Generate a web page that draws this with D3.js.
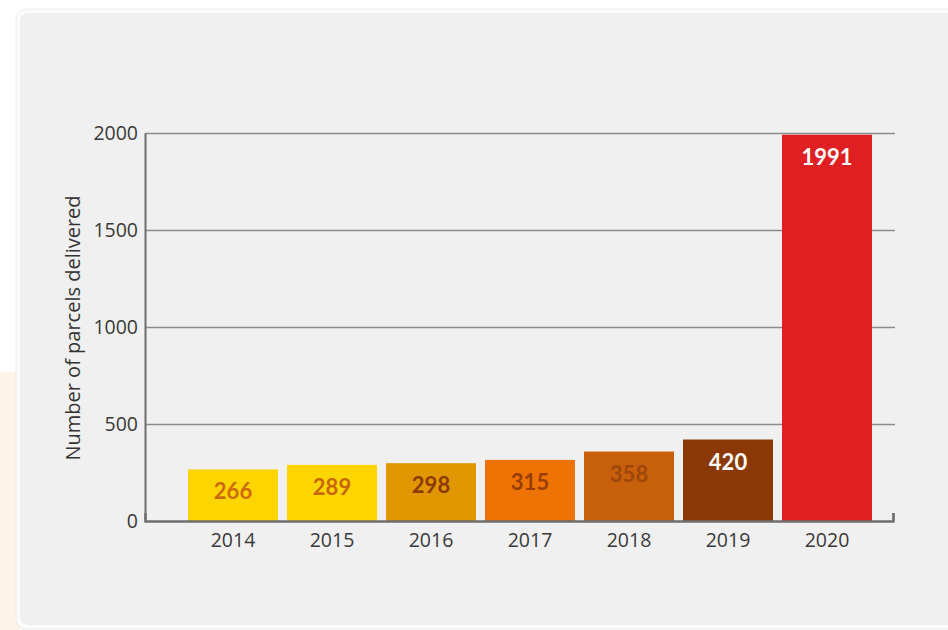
<!DOCTYPE html>
<html>
<head>
<meta charset="utf-8">
<script src="https://cdn.jsdelivr.net/npm/d3@7"></script>
<style>
  html, body { margin: 0; padding: 0; background: #fff; overflow: hidden; }
  svg { display: block; }
</style>
</head>
<body>
<div id="chart"></div>
<script>
// data
const years = ['2014', '2015', '2016', '2017', '2018', '2019', '2020']
const parcels = [266, 289, 298, 315, 358, 420, 1991]
const barColors = ['#ffd500', '#ffd500', '#e09700', '#ee7302', '#c85f0b', '#8a3806', '#e01f23']
const labelColors = ['#d0690b', '#c9660a', '#8c3b06', '#993e06', '#9e470b', '#ffffff', '#ffffff']
const yTicks = [0, 500, 1000, 1500, 2000]

const W = 948, H = 630
const svg = d3.select('#chart').append('svg')
    .attr('width', W)
    .attr('height', H)

// page background: pale strip on the left, then the grey card
svg.append('rect')
    .attr('x', 0).attr('y', 372).attr('width', 20).attr('height', H - 372)
    .attr('fill', '#fdf3e8')
svg.append('rect')
    .attr('x', 16).attr('y', 9).attr('width', 960).attr('height', 620)
    .attr('rx', 10)
    .attr('fill', '#fbfbfb')
    .attr('stroke', '#ececec')
svg.append('rect')
    .attr('x', 20).attr('y', 13).attr('width', 960).attr('height', 612)
    .attr('rx', 8)
    .attr('fill', '#f0f0f0')

// scales
let x = d3.scaleBand()
    .domain(years)
    .range([183.5, 876.5])
    .paddingInner(0.0909)
    .paddingOuter(0.04545)
let y = d3.scaleLinear()
    .domain([0, 2000])
    .range([521, 133])

const axisLeftX = 145, axisRightX = 893

// gridlines
let grid = svg.append('g')
    .attr('transform', `translate(${axisLeftX},0)`)
    .call(d3.axisLeft(y).tickValues(yTicks.slice(1)).tickSize(-(895 - axisLeftX)).tickFormat(''))
grid.select('.domain').remove()
grid.selectAll('line').attr('stroke', '#8a8a8a').attr('stroke-width', 1.4)

// y axis labels + line
let yAxis = svg.append('g')
    .attr('transform', `translate(${axisLeftX},0)`)
    .call(d3.axisLeft(y).tickValues(yTicks).tickSize(0).tickPadding(7).tickFormat(d3.format('d')))
yAxis.select('.domain').attr('stroke', '#6e6e6e').attr('stroke-width', 2)
yAxis.selectAll('text')
    .attr('font-family', 'Open Sans, sans-serif')
    .attr('font-size', 19.5)
    .attr('fill', '#3a3a3a')

// bars
svg.append('g').selectAll('rect')
    .data(parcels)
    .enter().append('rect')
    .attr('x', (d, i) => x(years[i]))
    .attr('y', d => y(d))
    .attr('width', x.bandwidth())
    .attr('height', d => y(0) - y(d))
    .attr('fill', (d, i) => barColors[i])

// value labels inside bars
svg.append('g').selectAll('text')
    .data(parcels)
    .enter().append('text')
    .attr('x', (d, i) => x(years[i]) + x.bandwidth() / 2)
    .attr('y', d => y(d) + 30)
    .attr('text-anchor', 'middle')
    .attr('font-family', 'Lato, sans-serif')
    .attr('font-weight', 700)
    .attr('font-size', 22)
    .attr('fill', (d, i) => labelColors[i])
    .text(d => d)

// x axis
let xAxisScale = d3.scaleLinear().domain([0, 1]).range([axisLeftX, axisRightX])
let xAxis = svg.append('g')
    .attr('transform', `translate(0,${y(0)})`)
    .call(d3.axisBottom(xAxisScale).tickValues([1]).tickSize(-8).tickFormat(''))
xAxis.select('.domain').attr('stroke', '#6e6e6e').attr('stroke-width', 2.4)
xAxis.selectAll('line').attr('stroke', '#6e6e6e').attr('stroke-width', 2)

svg.append('g').selectAll('text')
    .data(years)
    .enter().append('text')
    .attr('x', d => x(d) + x.bandwidth() / 2)
    .attr('y', 547)
    .attr('text-anchor', 'middle')
    .attr('font-family', 'Open Sans, sans-serif')
    .attr('font-size', 19.5)
    .attr('fill', '#3a3a3a')
    .text(d => d)

// y title
svg.append('text')
    .attr('transform', `translate(80,${328}) rotate(-90)`)
    .attr('text-anchor', 'middle')
    .attr('font-family', 'Open Sans, sans-serif')
    .attr('font-size', 20)
    .attr('fill', '#333')
    .text('Number of parcels delivered')
</script>
</body>
</html>
